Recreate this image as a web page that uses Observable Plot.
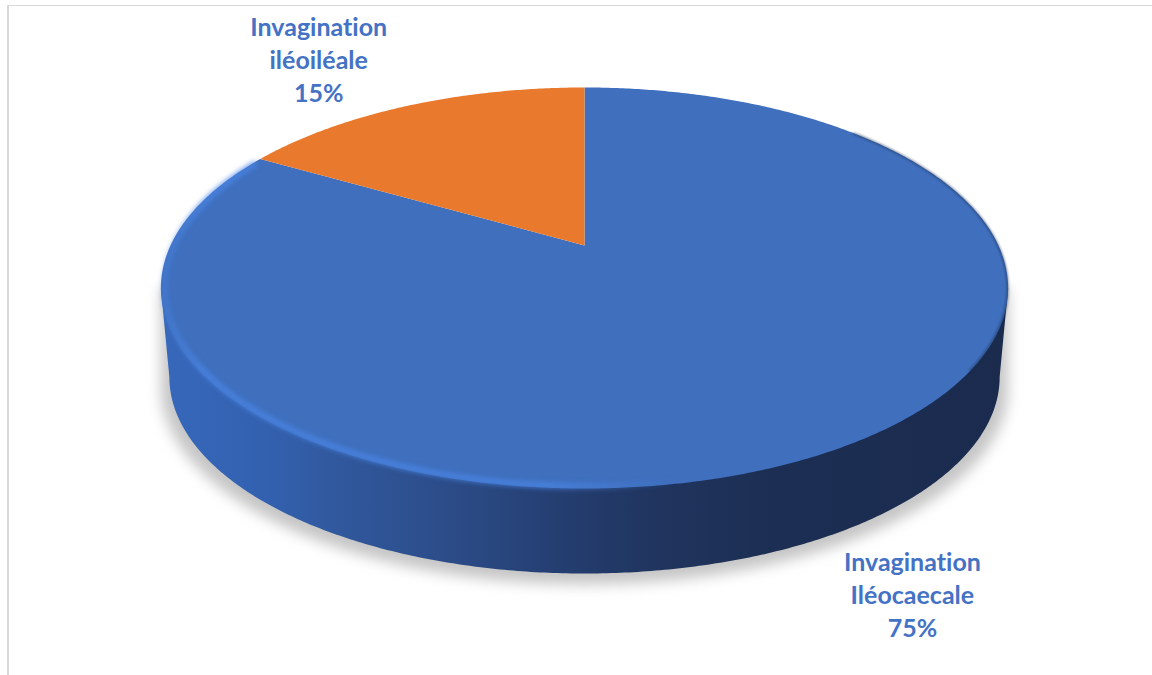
<!DOCTYPE html>
<html lang="fr">
<head>
<meta charset="utf-8">
<script src="https://cdn.jsdelivr.net/npm/d3@7"></script>
<script src="https://cdn.jsdelivr.net/npm/@observablehq/plot@0.6"></script>
<style>
  html, body { margin: 0; background: #fff; }
  #chart { position: relative; width: 1152px; height: 675px; overflow: hidden; }
  #chart svg { display: block; position: absolute; left: 0; top: 0; background: transparent; }
  #chart text { font-variant-ligatures: none; }
  #frame { position: absolute; left: 7px; top: 5px; width: 1150px; height: 680px;
           border-left: 2px solid #d9d9d9; border-top: 1.5px solid #d9d9d9; }
</style>
</head>
<body>
<div id="chart"><div id="frame"></div></div>
<script>
// Types d'invagination et leurs pourcentages
const categories = ["Invagination\nIléocaecale", "Invagination\niléoiléale"];
const percentages = [75, 15];
const sliceColors = ["#3f6fbd", "#e97a2d"];

// Disc geometry: the unit disc is seen in perspective, then scaled to the page
const PX = 414;                // pixels per model unit
const APEX = [584, 245];       // where the disc centre lands on the page
const KEEP = 0.4626;           // vertical foreshortening
const K = 0.212;               // perspective strength
const SHRINK = 0.98, DROP = 0.217; // lower rim of the cylinder

const project = (a, r = 1, lower = false) => {
  const u = r * Math.sin(a), v = r * Math.cos(a), w = 1 + K * v;
  const s = lower ? SHRINK : 1;
  return {x: s * u / w, y: s * KEEP * v / w - (lower ? DROP : 0)};
};

const deg = (d) => d * Math.PI / 180;
const arc = (from, to, r, lower) => {
  const n = Math.ceil(Math.abs(to - from) / deg(0.5));
  return d3.range(n + 1).map((i) => project(from + (to - from) * i / n, r, lower));
};

// Pie slices, clockwise from twelve o'clock
const slices = d3.pie().sort(null)(percentages).map((s, i) => ({
  name: categories[i], value: s.value, startAngle: s.startAngle, endAngle: s.endAngle
}));
const sliceRows = slices.flatMap((s) =>
  [{x: 0, y: 0}, ...arc(s.startAngle, s.endAngle)].map((p) => ({...p, name: s.name}))
);

// The visible wall runs between the two silhouette points of the disc
const turn = Math.acos(-K);
const wall = [
  project(turn),
  ...arc(turn, 2 * Math.PI - turn, 1, true),
  project(2 * Math.PI - turn)
];
const shadow = arc(turn, 2 * Math.PI - turn, 1, true)
  .map((p) => ({x: p.x * 1.02, y: p.y - 0.026}));
const shadowShape = [project(turn), ...shadow, project(2 * Math.PI - turn)];

// Bevel: a soft light edge on the left and front, a darker one on the right
const rim = arc(deg(298), deg(170), 0.992);
const shadeEdge = arc(deg(48), deg(125), 0.999);

// Labels sit beside their slices, in the same model units as the disc
const labelAnchors = [{x: 0.792, y: -0.84}, {x: -0.642, y: 0.453}];
const labels = slices.map((s, i) => ({
  ...labelAnchors[i],
  text: `${s.name}\n${s.value}%`
}));

// Gradients used by the wall and the bevel highlight
const gradients = () => {
  const svgNS = "http://www.w3.org/2000/svg";
  const defs = document.createElementNS(svgNS, "defs");
  const add = (id, stops) => {
    const g = document.createElementNS(svgNS, "linearGradient");
    g.setAttribute("id", id);
    g.setAttribute("x1", "0"); g.setAttribute("x2", "1");
    g.setAttribute("y1", "0"); g.setAttribute("y2", "0");
    for (const [offset, color, opacity] of stops) {
      const s = document.createElementNS(svgNS, "stop");
      s.setAttribute("offset", offset);
      s.setAttribute("stop-color", color);
      s.setAttribute("stop-opacity", opacity);
      g.appendChild(s);
    }
    defs.appendChild(g);
  };
  add("wallShade", [
    [0, "#3768bb", 1], [0.12, "#3361b0", 1], [0.2, "#31599f", 1],
    [0.34, "#2c4c88", 1], [0.46, "#253f73", 1], [0.58, "#20355f", 1],
    [0.72, "#1c2e53", 1], [1, "#1a2b4e", 1]
  ]);
  add("rimGlow", [
    [0, "#4a86e6", 0.4], [0.08, "#4a86e6", 0.8], [0.75, "#4a86e6", 0.8], [1, "#4a86e6", 0]
  ]);
  return defs;
};

const chart = Plot.plot({
  width: 1152,
  height: 675,
  margin: 0,
  style: {background: "transparent"},
  x: {axis: null, domain: [-APEX[0] / PX, (1152 - APEX[0]) / PX], range: [0, 1152]},
  y: {axis: null, domain: [(APEX[1] - 675) / PX, APEX[1] / PX], range: [675, 0]},
  color: {domain: categories, range: sliceColors},
  marks: [
    gradients,
    Plot.line(shadowShape, {x: "x", y: "y", fill: "#8c8c8c", stroke: "none", fillOpacity: 0.5, imageFilter: "blur(7px)"}),
    Plot.line(wall, {x: "x", y: "y", fill: "url(#wallShade)", stroke: "none"}),
    Plot.line(sliceRows, {x: "x", y: "y", z: "name", fill: "name", stroke: "none"}),
    Plot.line(rim, {x: "x", y: "y", stroke: "url(#rimGlow)", strokeWidth: 6, fill: "none", imageFilter: "blur(2.5px)"}),
    Plot.line(shadeEdge, {x: "x", y: "y", stroke: "#1a2b4e", strokeOpacity: 0.55, strokeWidth: 2, fill: "none", imageFilter: "blur(1px)"}),
    Plot.text(labels, {
      x: "x", y: "y", text: "text",
      fill: "#4472c4",
      fontFamily: "Lato, 'Open Sans', sans-serif",
      fontWeight: 700,
      fontSize: 25,
      lineHeight: 1.32
    })
  ]
});
document.getElementById("chart").appendChild(chart);
</script>
</body>
</html>
